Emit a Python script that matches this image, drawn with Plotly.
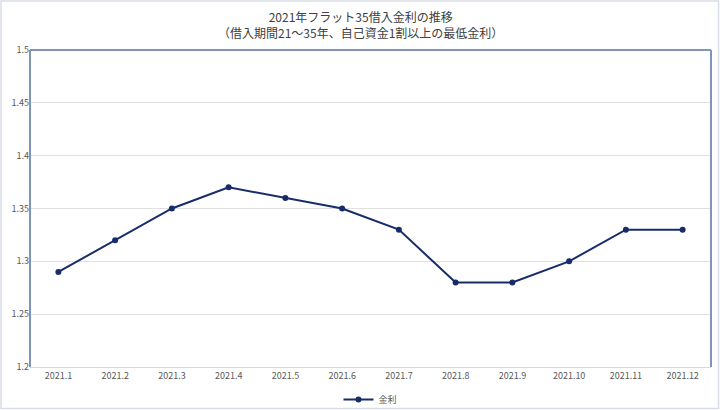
import plotly.graph_objects as go

months = ["2021.1", "2021.2", "2021.3", "2021.4", "2021.5", "2021.6",
          "2021.7", "2021.8", "2021.9", "2021.10", "2021.11", "2021.12"]
rates = [1.29, 1.32, 1.35, 1.37, 1.36, 1.35, 1.33, 1.28, 1.28, 1.30, 1.33, 1.33]
y_ticks = [1.2, 1.25, 1.3, 1.35, 1.4, 1.45, 1.5]
y_tick_labels = ["1.2", "1.25", "1.3", "1.35", "1.4", "1.45", "1.5"]
title_lines = ["2021年フラット35借入金利の推移",
               "（借入期間21～35年、自己資金1割以上の最低金利）"]

W, H = 720, 410
L, R, T, B = 30, 9, 50, 43
pw, ph = W - L - R, H - T - B

def px_x(p):
    return (p - L) / pw

def px_y(p):
    return (H - B - p) / ph

font = "Noto Sans CJK JP, Noto Sans, sans-serif"
frame = "#8093b8"

fig = go.Figure()
fig.add_trace(go.Scatter(
    x=months, y=rates, mode="lines+markers", name="金利",
    line=dict(color="#172c69", width=2),
    marker=dict(color="#172c69", size=6),
))

annotations = [
    dict(text="<br>".join(title_lines), xref="paper", yref="paper",
         x=px_x(360), y=px_y(24), align="center",
         xanchor="center", yanchor="middle", showarrow=False,
         font=dict(family=font, size=12, color="#404040")),
]

fig.update_layout(
    width=W, height=H,
    margin=dict(l=L, r=R, t=T, b=B, autoexpand=False),
    paper_bgcolor="white", plot_bgcolor="white",
    font=dict(family=font, color="#595959", size=9),
    annotations=annotations,
    showlegend=True,
    legend=dict(orientation="h", x=0.5, xanchor="center", y=px_y(385), yanchor="top",
                bgcolor="rgba(0,0,0,0)",
                font=dict(size=9, color="#595959")),
    xaxis=dict(
        type="category", range=[-0.5, 11.5], showgrid=False, automargin=False,
        showline=True, linecolor="#d9d9d9", linewidth=1,
        ticks="", tickfont=dict(size=9, color="#595959"), fixedrange=True,
    ),
    yaxis=dict(
        range=[1.2, 1.5], tickvals=y_ticks, ticktext=y_tick_labels, automargin=False,
        showgrid=True, gridcolor="#e0e0e0", gridwidth=1, zeroline=False,
        showline=False, ticks="", tickfont=dict(size=9, color="#595959"),
        fixedrange=True,
    ),
    shapes=[
        dict(type="line", xref="paper", yref="paper", x0=0, x1=0, y0=0, y1=1,
             line=dict(color=frame, width=2)),
        dict(type="line", xref="paper", yref="paper", x0=0, x1=1, y0=1, y1=1,
             line=dict(color=frame, width=2)),
        dict(type="line", xref="paper", yref="paper", x0=1, x1=1, y0=0, y1=1,
             line=dict(color=frame, width=2)),
        dict(type="rect", xref="paper", yref="paper",
             x0=px_x(1), x1=px_x(718.5), y0=px_y(408.5), y1=px_y(1),
             line=dict(color="#d9dde6", width=1.5), layer="below"),
    ],
)

fig.write_html(
    "out.html",
    config={"displayModeBar": False},
    post_script="document.body.style.margin='0';document.body.style.overflow='hidden';",
)
